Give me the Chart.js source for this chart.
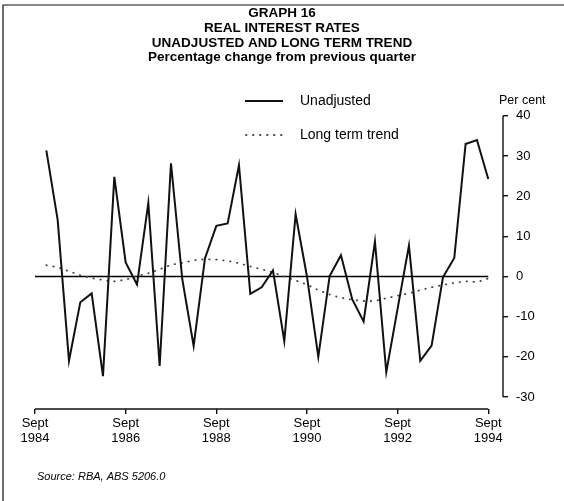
<!DOCTYPE html>
<html>
<head>
<meta charset="utf-8">
<script src="https://cdn.jsdelivr.net/npm/chart.js@4/dist/chart.umd.min.js"></script>
<style>
  body { margin: 0; background: #fff; }
  canvas { display: block; }
</style>
</head>
<body>
<canvas id="rateChart" width="564" height="501"></canvas>
<script>
// Quarters, Sept 1984 .. Sept 1994 (index = position on the x axis)
const quarters = [];
for (let y = 1984; y <= 1994; y++) {
    ['Mar', 'Jun', 'Sept', 'Dec'].forEach(m => quarters.push(m + ' ' + y));
}
quarters.splice(0, 2);           // start at Sept 1984
quarters.splice(41);             // end at Sept 1994

// series start in Dec 1984 (index 1)
const unadjusted = [31.4, 14.1, -21.0, -6.4, -4.2, -24.8, 24.8, 3.5, -2.0, 18.3,
    -22.3, 28.2, -0.7, -17.3, 4.5, 12.6, 13.2, 27.7, -4.3, -2.7,
    1.5, -16.1, 15.5, 0.0, -20.0, 0.1, 5.3, -5.7, -11.2, 8.7,
    -23.8, -8.0, 7.7, -21.0, -17.2, -0.2, 4.6, 33.0, 34.0, 24.3];
const trend = [2.8, 2.3, 1.3, 0.3, -0.4, -0.9, -1.2, -0.8, 0.1, 0.8,
    1.8, 2.9, 3.4, 4.0, 4.3, 4.2, 3.9, 3.3, 2.5, 1.8,
    1.0, 0.0, -1.0, -2.0, -3.4, -4.5, -5.3, -5.8, -6.1, -6.1,
    -5.4, -4.8, -4.2, -3.4, -2.7, -2.1, -1.6, -1.2, -1.4, -0.5];
const xTickQuarters = ['Sept 1984', 'Sept 1986', 'Sept 1988', 'Sept 1990', 'Sept 1992', 'Sept 1994'];
const yTicks = [-30, -20, -10, 0, 10, 20, 30, 40];

const FONT = "'Liberation Sans', Arial, sans-serif";

function toPoints(values) {
    return values.map((v, i) => ({ x: i + 1, y: v }));
}

// frame, legend, axis lines, zero line and source note
const decor = {
    id: 'decor',
    beforeDatasetsDraw(chart) {
        const { ctx, scales: { x, y } } = chart;
        ctx.save();
        ctx.strokeStyle = '#000';
        ctx.lineWidth = 1.6;
        ctx.beginPath();
        ctx.moveTo(x.getPixelForValue(0), y.getPixelForValue(0));
        ctx.lineTo(x.getPixelForValue(quarters.length - 1), y.getPixelForValue(0));
        ctx.stroke();
        ctx.restore();
    },
    afterDraw(chart) {
        const { ctx, chartArea, scales: { x, y } } = chart;
        ctx.save();
        ctx.strokeStyle = '#111';

        // page frame
        ctx.lineWidth = 1.2;
        ctx.beginPath();
        ctx.moveTo(3, 501);
        ctx.lineTo(3, 5);
        ctx.lineTo(564, 5);
        ctx.stroke();

        // x axis line (Sept 1984 .. Sept 1994)
        ctx.lineWidth = 1.4;
        ctx.beginPath();
        ctx.moveTo(x.getPixelForValue(0), chartArea.bottom);
        ctx.lineTo(x.getPixelForValue(quarters.length - 1), chartArea.bottom);
        ctx.stroke();

        // y axis line (-30 .. 40)
        ctx.beginPath();
        ctx.moveTo(chartArea.right, y.getPixelForValue(yTicks[0]));
        ctx.lineTo(chartArea.right, y.getPixelForValue(yTicks[yTicks.length - 1]));
        ctx.stroke();

        // legend
        ctx.fillStyle = '#000';
        ctx.font = '14px ' + FONT;
        ctx.textBaseline = 'middle';
        ctx.lineWidth = 2;
        ctx.beginPath();
        ctx.moveTo(245, 101);
        ctx.lineTo(283, 101);
        ctx.stroke();
        ctx.fillText('Unadjusted', 300, 101);

        ctx.save();
        ctx.strokeStyle = '#444';
        ctx.lineWidth = 1.8;
        ctx.setLineDash([0.5, 6.5]);
        ctx.lineCap = 'round';
        ctx.beginPath();
        ctx.moveTo(246, 135);
        ctx.lineTo(283, 135);
        ctx.stroke();
        ctx.restore();
        ctx.fillText('Long term trend', 300, 135);

        ctx.font = '12.5px ' + FONT;
        ctx.fillText('Per cent', 499, 101);

        ctx.font = 'italic 11px ' + FONT;
        ctx.fillText('Source: RBA, ABS 5206.0', 37, 477);
        ctx.restore();
    }
};

new Chart(document.getElementById('rateChart'), {
    type: 'line',
    data: {
        datasets: [
            {
                label: 'Unadjusted',
                data: toPoints(unadjusted),
                xAxisID: 'x',
                yAxisID: 'y',
                borderColor: '#111',
                borderWidth: 2,
                pointRadius: 0,
                tension: 0
            },
            {
                label: 'Long term trend',
                data: toPoints(trend),
                xAxisID: 'x',
                yAxisID: 'y',
                borderColor: '#444',
                borderWidth: 1.8,
                borderDash: [0.5, 6.5],
                borderCapStyle: 'round',
                pointRadius: 0,
                tension: 0
            }
        ]
    },
    options: {
        responsive: false,
        animation: false,
        layout: { padding: 0 },
        plugins: {
            legend: { display: false },
            tooltip: { enabled: false },
            title: {
                display: true,
                text: ['GRAPH 16', 'REAL INTEREST RATES', 'UNADJUSTED AND LONG TERM TREND'],
                color: '#000',
                font: { family: FONT, size: 13.5, weight: 'bold', lineHeight: 1.09 },
                padding: { top: 6, bottom: 0 }
            },
            subtitle: {
                display: true,
                text: 'Percentage change from previous quarter',
                color: '#000',
                font: { family: FONT, size: 13.5, weight: 'bold', lineHeight: 1.09 },
                padding: { top: 0, bottom: 51 }
            }
        },
        scales: {
            x: {
                type: 'linear',
                min: 0,
                max: 41.3,
                afterFit: s => { s.height = 92; },
                afterBuildTicks: s => {
                    s.ticks = xTickQuarters.map(q => ({ value: quarters.indexOf(q) }));
                },
                ticks: {
                    color: '#000',
                    font: { family: FONT, size: 13, lineHeight: 1.15 },
                    padding: 2,
                    maxRotation: 0,
                    callback: v => quarters[v].split(' ')
                },
                grid: {
                    drawOnChartArea: false,
                    drawTicks: true,
                    tickLength: 5,
                    color: '#111',
                    lineWidth: 1.4
                },
                border: { display: false }
            },
            y: {
                position: 'right',
                min: -33,
                max: 40,
                afterFit: s => { s.width = 61; },
                afterBuildTicks: s => {
                    s.ticks = yTicks.map(v => ({ value: v }));
                },
                ticks: {
                    color: '#000',
                    font: { family: FONT, size: 13 },
                    padding: 8
                },
                grid: {
                    drawOnChartArea: false,
                    drawTicks: true,
                    tickLength: 5,
                    color: '#111',
                    lineWidth: 1.4
                },
                border: { display: false }
            },
            // empty left margin so the title stays centred on the page
            margin: {
                type: 'linear',
                axis: 'y',
                position: 'left',
                afterFit: s => { s.width = 35; },
                ticks: { display: false },
                grid: { display: false },
                border: { display: false }
            }
        }
    },
    plugins: [decor]
});
</script>
</body>
</html>
